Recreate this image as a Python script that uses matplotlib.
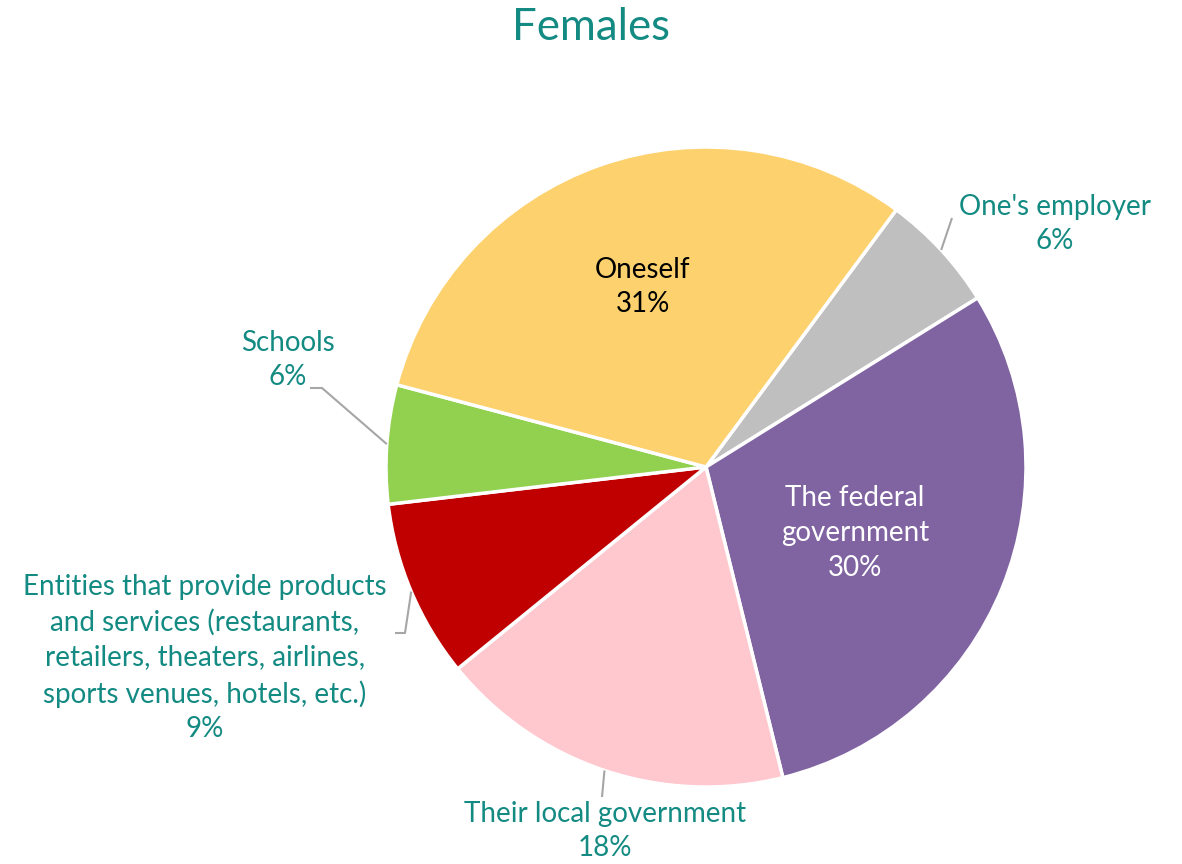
import numpy as np
import matplotlib
matplotlib.use("Agg")
import matplotlib.pyplot as plt

categories = ["One's employer", "The federal\ngovernment", "Their local government",
              "Entities that provide products\nand services (restaurants,\nretailers, theaters, airlines,\nsports venues, hotels, etc.)",
              "Schools", "Oneself"]
values = [6, 30, 18, 9, 6, 31]
colors = ["#BFBFBF", "#8064A2", "#FFC7CE", "#C00000", "#92D050", "#FDD26E"]
title = "Females"

TEAL = "#138A82"
GRAY = "#A6A6A6"
W, H = 1182, 864
plt.rcParams['font.family'] = ['Lato', 'DejaVu Sans']

fig = plt.figure(figsize=(W / 100, H / 100), dpi=100)
ax = fig.add_axes([0, 0, 1, 1])

def Y(y):
    return H - y

cx, cy, R = 706, 467, 320
wedges, _ = ax.pie(values, colors=colors, startangle=53.5, counterclock=False,
                   center=(cx, Y(cy)), radius=R, frame=True,
                   wedgeprops=dict(edgecolor='white', linewidth=2.5))
ax.set_xlim(0, W)
ax.set_ylim(0, H)
ax.set_aspect('equal')
ax.axis('off')

fs = 20
# label positions (image pixel coords), text color, leader elbow points
layout = [
    dict(pos=(1055, 224), color=TEAL, lead=[(952, 218)]),
    dict(pos=(855, 533), color='white', lead=None),
    dict(pos=(605, 831), color=TEAL, lead=[(602, 797)]),
    dict(pos=(205, 658), color=TEAL, lead=[(405, 633), (395, 633)]),
    dict(pos=(288, 360), color=TEAL, lead=[(322, 388), (310, 388)]),
    dict(pos=(643, 287), color='black', lead=None),
]

for w, cat, val, lay in zip(wedges, categories, values, layout):
    x, y = lay['pos']
    ax.text(x, Y(y), f"{cat}\n{val}%", ha='center', va='center', color=lay['color'],
            fontsize=fs, linespacing=1.42)
    if lay['lead']:
        mid = np.deg2rad((w.theta1 + w.theta2) / 2)
        ex, ey = cx + R * np.cos(mid), Y(cy) + R * np.sin(mid)
        xs = [ex] + [p[0] for p in lay['lead']]
        ys = [ey] + [Y(p[1]) for p in lay['lead']]
        ax.plot(xs, ys, color=GRAY, lw=1.5, solid_capstyle='butt')

ax.text(591, Y(27), title, ha='center', va='center', color=TEAL, fontsize=31.5)

fig.savefig("out.png", dpi=100)
